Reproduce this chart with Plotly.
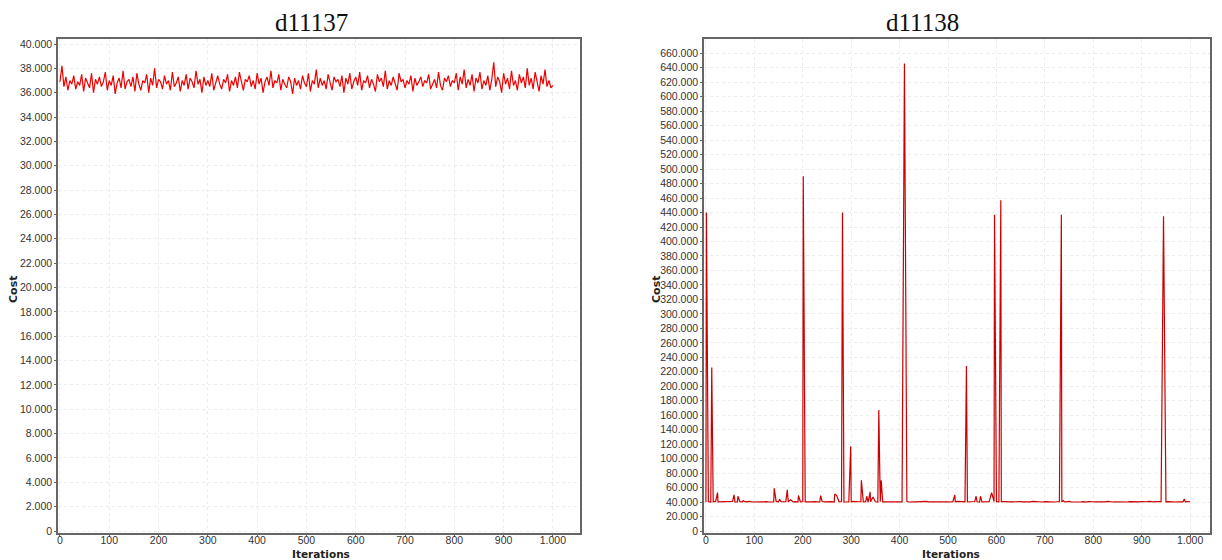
import plotly.graph_objects as go

# ---------------- data ----------------
titles = ["d11137", "d11138"]
x_title = "Iterations"
y_title = "Cost"

# d11137: cost sampled every 4 iterations (0..1000)
left_step = 4
left_cost = [
    36900, 38200, 36500, 37300, 36200, 37000, 36700, 37400, 36300, 36900,
    36600, 37500, 36100, 37200, 36800, 36400, 37600, 36000, 37100, 36700,
    37300, 36500, 36900, 37700, 36200, 37000, 36600, 37400, 35900, 36800,
    37200, 36400, 37800, 36300, 36900, 37100, 36500, 37300, 36100, 37600,
    36700, 36200, 37000, 36800, 37500, 36000, 37200, 36600, 38000, 36400,
    37100, 36900, 36300, 37400, 36700, 37000, 36200, 37700, 36500, 36800,
    37300, 36100, 37000, 36600, 37500, 36300, 37200, 36900, 36400, 37800,
    36700, 37100, 36000, 37300, 36600, 37000, 36500, 37600, 36200, 36900,
    37400, 36700, 36300, 37100, 36800, 37500, 36100, 37000, 36600, 37300,
    36400, 37700, 36800, 36200, 37100, 36900, 37400, 36500, 37000, 36300,
    37600, 36700, 37200, 36000, 36900, 37300, 36600, 37800, 36400, 37000,
    36800, 37500, 36200, 37100, 36700, 36400, 37300, 36900, 35900, 37200,
    36600, 37000, 36300, 37400, 36800, 36500, 37600, 36100, 37000, 36700,
    37900, 36400, 37200, 36600, 37000, 36300, 37500, 36800, 36200, 37300,
    36900, 37100, 36500, 37400, 36000, 37200, 36700, 37600, 36300, 36900,
    37300, 36600, 37700, 36200, 37000, 36800, 37400, 36400, 37100, 36700,
    36100, 37500, 36900, 37200, 36500, 37800, 36300, 37000, 36600, 37300,
    36800, 36200, 37600, 36900, 37100, 36400, 37000, 36700, 37400, 36100,
    37200, 36600, 36900, 37300, 36500, 37000, 36800, 37500, 36300, 36700,
    37100, 36400, 37700, 36600, 36200, 37200, 36900, 37400, 36500, 37000,
    36800, 37600, 36200, 37300, 36700, 37900, 36400, 37100, 36600, 37500,
    36100, 37200, 36800, 37700, 36300, 37000, 36600, 37400, 36200, 37100,
    38500, 36500, 37300, 36900, 36000, 37600, 36700, 37200, 36300, 37800,
    36600, 37000, 36200, 37500, 36800, 37300, 36400, 38000, 36600, 37200,
    36300, 37700, 36800, 36100, 37400, 36700, 37900, 36500, 37000, 36400,
    36600,
]
left_iter = [i * left_step for i in range(len(left_cost))]

# d11138: baseline cost sampled every 5 iterations (0..1000)
right_step = 5
right_base = [
    40200, 40600, 40100, 40400, 40800, 40300, 40500, 40000, 40700, 40200,
    40400, 40900, 40300, 40100, 40600, 40200, 40500, 40300, 40800, 40100,
    40400, 40000, 40600, 40300, 40200, 40700, 40100, 40500, 40300, 40900,
    40200, 40400, 40100, 40600, 40300, 40800, 40200, 40500, 40000, 40400,
    40700, 40300, 40100, 40500, 40200, 40600, 40400, 40100, 40800, 40300,
    40500, 40200, 40600, 40000, 40400, 40300, 40700, 40100, 40500, 40200,
    40300, 40800, 40100, 40400, 40600, 40200, 40500, 40000, 40300, 40700,
    40400, 40100, 40600, 40300, 40200, 40500, 40800, 40100, 40400, 40300,
    40600, 40200, 40400, 40700, 40100, 40500, 40300, 40200, 40600, 40000,
    40400, 40800, 40200, 40300, 40500, 40100, 40600, 40400, 40200, 40700,
    40300, 40100, 40500, 40400, 40800, 40200, 40600, 40300, 40100, 40500,
    40200, 40700, 40400, 40000, 40300, 40600, 40100, 40500, 40300, 40800,
    40400, 40200, 40600, 40100, 40500, 40300, 40700, 40200, 40400, 40000,
    40600, 40300, 40100, 40500, 40200, 40800, 40400, 40300, 40600, 40100,
    40500, 40200, 40700, 40300, 40100, 40400, 40600, 40200, 40500, 40300,
    40800, 40100, 40400, 40200, 40600, 40300, 40500, 40000, 40700, 40200,
    40400, 40300, 40100, 40600, 40500, 40200, 40800, 40300, 40100, 40400,
    40200, 40600, 40300, 40500, 40100, 40700, 40400, 40200, 40600, 40300,
    40500, 40100, 40400, 40800, 40200, 40300, 40600, 40100, 40500, 40400,
    40300, 40700, 40200, 40500, 40100, 40400, 40600, 40300, 40200, 40500,
    40400,
]
# spikes of d11138 (iteration, cost)
spike_iter = [1, 12, 24, 58, 66, 77, 141, 152, 168, 175, 191, 201, 237, 266, 270,
              282, 299, 321, 332, 339, 345, 357, 362, 410, 514, 538, 558, 567,
              590, 596, 609, 734, 738, 945, 988]
spike_cost = [440000, 226000, 53000, 50000, 48000, 42000, 59000, 44000, 57000,
              43000, 49000, 490000, 49000, 51000, 49000, 440000, 117000, 70000,
              48000, 54000, 47000, 167000, 70000, 646000, 50000, 228000, 48000,
              48000, 53000, 437000, 457000, 437000, 42000, 435000, 44000]

merged = {i * right_step: c for i, c in enumerate(right_base)}
merged.update(dict(zip(spike_iter, spike_cost)))
right_iter = sorted(merged)
right_cost = [merged[k] for k in right_iter]

left_yticks = list(range(0, 40001, 2000))
right_yticks = list(range(0, 660001, 20000))
x_ticks = list(range(0, 1001, 100))

# ---------------- figure ----------------
# the page body has an 8px margin, so the figure is placed at (8, 8)
OFF = 8
W, H = 1222 - OFF, 560 - OFF
def px(x):
    return (x - OFF) / W
def py(y):
    return 1 - (y - OFF) / H

fig = go.Figure()
fig.add_trace(go.Scatter(x=left_iter, y=left_cost, mode="lines",
                         line=dict(color="#ee0000", width=1.2), xaxis="x", yaxis="y",
                         showlegend=False, hoverinfo="skip"))
fig.add_trace(go.Scatter(x=right_iter, y=right_cost, mode="lines",
                         line=dict(color="#cc0000", width=1.2), xaxis="x2", yaxis="y2",
                         showlegend=False, hoverinfo="skip"))

tick_font = dict(family="Liberation Sans", size=10.5, color="#333333")
axis_common = dict(showline=True, mirror=True, linecolor="#666666", linewidth=1.5,
                   ticks="outside", ticklen=2, tickcolor="#666666",
                   showgrid=True, gridcolor="#ececec", griddash="dot", gridwidth=1,
                   zeroline=False, tickfont=tick_font, automargin=False,
                   tickformat=",d")

y_dom = [py(533), py(39)]
fig.update_layout(
    width=W, height=H,
    margin=dict(l=0, r=0, t=0, b=0),
    paper_bgcolor="white", plot_bgcolor="white",
    separators=",.",
    xaxis=dict(domain=[px(58), px(580)], range=[-4, 1055], tickvals=x_ticks,
               anchor="y", ticklabelstandoff=-5, **axis_common),
    yaxis=dict(domain=y_dom, range=[-164, 40411], tickvals=left_yticks,
               anchor="x", **axis_common),
    xaxis2=dict(domain=[px(704), px(1210)], range=[-4, 1041], tickvals=x_ticks,
                anchor="y2", ticklabelstandoff=-5, **axis_common),
    yaxis2=dict(domain=y_dom, range=[-2763, 679760], tickvals=right_yticks,
                anchor="x2", **axis_common),
)

ann = []
for t, cx in zip(titles, [311, 922]):
    ann.append(dict(text=t, x=px(cx), y=py(22), xref="paper", yref="paper",
                    showarrow=False, xanchor="center", yanchor="middle",
                    font=dict(family="Liberation Serif", size=25, color="#111111")))
for cx in [321, 951]:
    ann.append(dict(text="<b>" + x_title + "</b>", x=px(cx), y=py(553.5), xref="paper",
                    yref="paper", showarrow=False, xanchor="center", yanchor="middle",
                    font=dict(family="DejaVu Sans", size=10.5, color="#222222")))
for cx in [13, 656]:
    ann.append(dict(text="<b>" + y_title + "</b>", x=px(cx), y=py(290), xref="paper",
                    yref="paper", showarrow=False, xanchor="center", yanchor="middle",
                    textangle=-90,
                    font=dict(family="DejaVu Sans", size=11, color="#222222")))
fig.update_layout(annotations=ann)

fig.write_html("out.html")
